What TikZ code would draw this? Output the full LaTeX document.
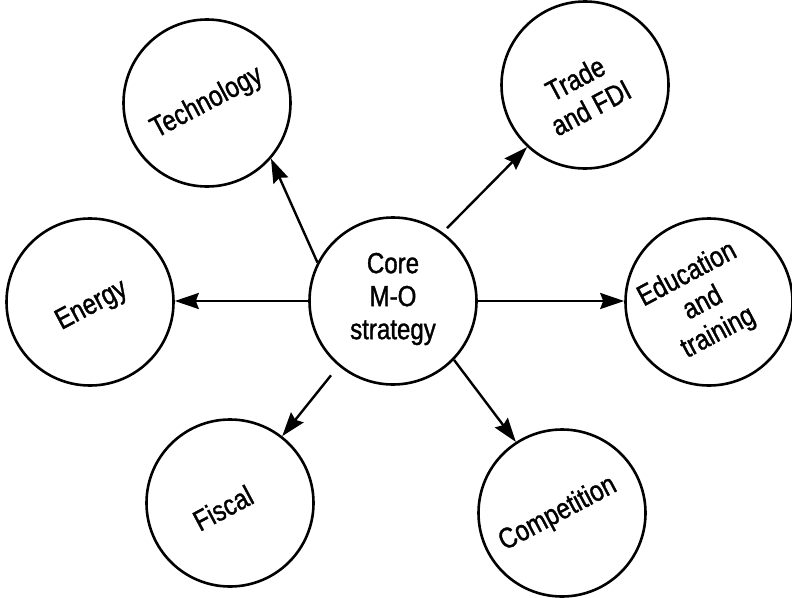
\documentclass[tikz,border=0pt]{standalone}
\usepackage{fontspec}
\setmainfont{Liberation Sans}[FakeStretch=0.83,FakeBold=1.2]
\usetikzlibrary{arrows.meta}
\begin{document}
\begin{tikzpicture}[x=1pt,y=-1pt,
  circ/.style={draw=black,circle,line width=2.6pt,minimum size=167pt,inner sep=0pt},
  lbl/.style={align=center,inner sep=0pt,font=\fontsize{29pt}{33pt}\selectfont},
  arr/.style={line width=2.4pt,-{Stealth[length=24pt,width=16pt,inset=3pt]}}]
\useasboundingbox (0,0) rectangle (792,597);
\node[circ] (core) at (393,301) {};
\node[circ] (tech) at (207,103) {};
\node[circ] (trade) at (585,85) {};
\node[circ] (energy) at (90,302) {};
\node[circ] (edu) at (709,302) {};
\node[circ] (fiscal) at (230,503) {};
\node[circ] (comp) at (562,513) {};
\node[lbl] (corelbl) at (393,299) {Core\\M-O\\strategy};
\node[lbl,rotate=28] (techlbl) at (207,103) {Technology};
\node[lbl,rotate=28] (tradelbl) at (583,93) {Trade\\and FDI};
\node[lbl,rotate=28] (energylbl) at (92,306) {Energy};
\node[lbl,rotate=28] (edulbl) at (703,304) {Education\\and\\training};
\node[lbl,rotate=28] (fiscallbl) at (223,508) {Fiscal};
\node[lbl,rotate=28] (complbl) at (558,514) {Competition};
\draw[arr] (core.153) -- (tech.-41);
\draw[arr,shorten <=6pt] (core.54) -- (trade.227);
\draw[arr] (core.west) -- (core.west -| energy.east);
\draw[arr] (core.east) -- (core.east -| edu.west);
\draw[arr,shorten <=12pt] (core.230) -- (fiscal.52);
\draw[arr] (core.-44) -- (comp.123);
\end{tikzpicture}
\end{document}
